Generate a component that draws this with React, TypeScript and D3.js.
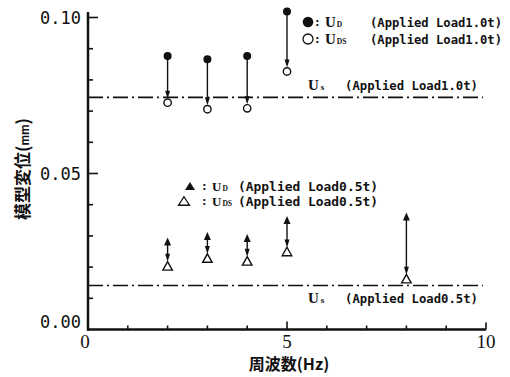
import React from "react";
import * as d3 from "d3";

// Frequencies (Hz) at which the model was loaded
const freqHeavy = [2, 3, 4, 5];
const freqLight = [2, 3, 4, 5, 8];

// Applied load 1.0 t
const udHeavy = [0.0877, 0.0866, 0.0877, 0.1019];
const udsHeavy = [0.0727, 0.0706, 0.0709, 0.0827];
const usHeavy = 0.0744;

// Applied load 0.5 t
const udLight = [0.0282, 0.03, 0.0293, 0.0351, 0.0362];
const udsLight = [0.0204, 0.0229, 0.022, 0.025, 0.0163];
const usLight = 0.0141;

const xTicks = [0, 1, 2, 3, 4, 5, 6, 7, 8, 9, 10];
const xTickLabels = [0, 5, 10];
const yTicks = [0.01, 0.02, 0.03, 0.04, 0.05, 0.06, 0.07, 0.08, 0.09, 0.1];
const yTickLabels = [0.1, 0.05, 0.0];

const W = 510;
const H = 377;

const x = d3.scaleLinear().domain([0, 10]).range([88, 486]);
const y = d3.scaleLinear().domain([0, 0.1]).range([329.5, 17.5]);

const INK = "#111";
const monoFont = "'DejaVu Sans Mono', 'Liberation Mono', monospace";
const serifFont = "'Liberation Serif', 'DejaVu Serif', serif";
const cjkFont = "'Noto Sans CJK JP', 'Noto Sans CJK SC', sans-serif";

const tri = (cx: number, cy: number, w: number, h: number, up = true) => {
  const p = d3.path();
  if (up) {
    p.moveTo(cx, cy - h / 2);
    p.lineTo(cx + w / 2, cy + h / 2);
    p.lineTo(cx - w / 2, cy + h / 2);
  } else {
    p.moveTo(cx, cy + h / 2);
    p.lineTo(cx + w / 2, cy - h / 2);
    p.lineTo(cx - w / 2, cy - h / 2);
  }
  p.closePath();
  return p.toString();
};

// Arrow running from the dynamic value down to the value under static load
function Arrow({ xv, from, to, gap }: { xv: number; from: number; to: number; gap: number }) {
  const px = x(xv);
  const y0 = y(from);
  const tip = y(to) - gap;
  const ah = 8;
  const aw = 5;
  const line = d3.line()([
    [px, y0],
    [px, tip - ah + 1],
  ]);
  return (
    <g>
      <path d={line || ""} stroke={INK} strokeWidth={1.4} fill="none" />
      <path d={tri(px, tip - ah / 2, aw, ah, false)} fill={INK} />
    </g>
  );
}

function UsLabel({ yPix, load }: { yPix: number; load: string }) {
  return (
    <g fill={INK}>
      <text x={308} y={yPix} fontFamily={serifFont} fontWeight="bold" fontSize={15}>
        U
        <tspan fontSize={9} dx={2}>s</tspan>
      </text>
      <text
        x={345}
        y={yPix}
        fontFamily={monoFont}
        fontWeight="bold"
        fontSize={12.5}
        textLength={133}
        lengthAdjust="spacingAndGlyphs"
      >
        {`(Applied Load${load}t)`}
      </text>
    </g>
  );
}

function LegendRow({
  marker,
  ux,
  base,
  sub,
  textX,
  textLen,
  load,
  fs,
  uSize,
}: {
  marker: React.ReactNode;
  ux: number;
  base: number;
  sub: string;
  textX: number;
  textLen: number;
  load: string;
  fs: number;
  uSize: number;
}) {
  return (
    <g fill={INK}>
      {marker}
      <text x={ux - 11} y={base - 1} fontFamily={monoFont} fontWeight="bold" fontSize={11}>
        :
      </text>
      <text x={ux} y={base} fontFamily={serifFont} fontWeight="bold" fontSize={uSize}>
        U
        <tspan fontSize={7.5} dx={1}>{sub}</tspan>
      </text>
      <text
        x={textX}
        y={base}
        fontFamily={monoFont}
        fontWeight="bold"
        fontSize={fs}
        textLength={textLen}
        lengthAdjust="spacingAndGlyphs"
      >
        {`(Applied Load${load}t)`}
      </text>
    </g>
  );
}

export default function App() {
  const dash = "15,4,2,4";
  return (
    <svg
      width={W}
      height={H}
      viewBox={`0 0 ${W} ${H}`}
      style={{ position: "absolute", left: 0, top: 0, background: "#fff" }}
    >
      <rect width={W} height={H} fill="#fff" />

      {/* axes */}
      <line x1={x(0)} x2={x(0)} y1={12} y2={y(0) + 1} stroke={INK} strokeWidth={2.5} />
      <line x1={x(0) - 1} x2={x(10)} y1={y(0)} y2={y(0)} stroke={INK} strokeWidth={2.5} />

      {/* y ticks, pointing inward */}
      {yTicks.map((t) => {
        const major = Math.abs(t - 0.05) < 1e-9 || Math.abs(t - 0.1) < 1e-9;
        return (
          <line
            key={t}
            x1={x(0)}
            x2={x(0) + (major ? 10 : 5)}
            y1={y(t)}
            y2={y(t)}
            stroke={INK}
            strokeWidth={1.6}
          />
        );
      })}
      {yTickLabels.map((t) => (
        <text
          key={t}
          x={81}
          y={t === 0 ? y(t) - 2 : y(t) + 6}
          textAnchor="end"
          fontFamily={monoFont}
          fontSize={17}
          fill={INK}
        >
          {t.toFixed(2)}
        </text>
      ))}

      {/* x ticks, pointing inward */}
      {xTicks.slice(1).map((t) => (
        <line
          key={t}
          x1={x(t)}
          x2={x(t)}
          y1={y(0)}
          y2={y(0) - (t === 5 ? 8 : t === 10 ? 7 : 4)}
          stroke={INK}
          strokeWidth={1.6}
        />
      ))}
      {xTickLabels.map((t) => (
        <text
          key={t}
          x={t === 0 ? x(t) - 3 : x(t)}
          y={348}
          textAnchor="middle"
          fontFamily={serifFont}
          fontSize={19}
          fill={INK}
        >
          {t}
        </text>
      ))}

      {/* axis titles */}
      <text
        x={289}
        y={370}
        textAnchor="middle"
        fontFamily={cjkFont}
        fontWeight="bold"
        fontSize={16}
        fill={INK}
      >
        周波数(Hz)
      </text>
      <text
        transform={`translate(29,169) rotate(-90)`}
        textAnchor="middle"
        fontFamily={cjkFont}
        fontWeight="bold"
        fontSize={17}
        fill={INK}
      >
        模型変位(<tspan fontSize={11}>mm</tspan>)
      </text>

      {/* static displacement lines */}
      <line
        x1={x(0)}
        x2={483}
        y1={y(usHeavy)}
        y2={y(usHeavy)}
        stroke={INK}
        strokeWidth={1.6}
        strokeDasharray={dash}
      />
      <line
        x1={x(0)}
        x2={483}
        y1={y(usLight)}
        y2={y(usLight)}
        stroke={INK}
        strokeWidth={1.6}
        strokeDasharray={dash}
      />
      <UsLabel yPix={90} load="1.0" />
      <UsLabel yPix={303} load="0.5" />

      {/* 1.0 t: U_D -> U_DS */}
      {freqHeavy.map((f, i) => (
        <g key={`h${f}`}>
          <Arrow xv={f} from={udHeavy[i]} to={udsHeavy[i]} gap={4} />
          <circle cx={x(f)} cy={y(udHeavy[i])} r={4} fill={INK} />
          <circle
            cx={x(f)}
            cy={y(udsHeavy[i])}
            r={3.7}
            fill="#fff"
            stroke={INK}
            strokeWidth={1.4}
          />
        </g>
      ))}

      {/* 0.5 t: U_D -> U_DS */}
      {freqLight.map((f, i) => (
        <g key={`l${f}`}>
          <Arrow xv={f} from={udLight[i]} to={udsLight[i]} gap={4} />
          <path d={tri(x(f), y(udLight[i]), 7, 8)} fill={INK} />
          <path
            d={tri(x(f), y(udsLight[i]), 9.5, 8.5)}
            fill="#fff"
            stroke={INK}
            strokeWidth={1.4}
            strokeLinejoin="miter"
          />
        </g>
      ))}

      {/* legends */}
      <LegendRow
        marker={<circle cx={308} cy={22} r={5.3} fill={INK} />}
        ux={325}
        base={27}
        sub="D"
        textX={370}
        textLen={132}
        load="1.0"
        fs={12}
        uSize={15}
      />
      <LegendRow
        marker={<circle cx={308} cy={39} r={5} fill="#fff" stroke={INK} strokeWidth={1.3} />}
        ux={325}
        base={44}
        sub="DS"
        textX={370}
        textLen={132}
        load="1.0"
        fs={12}
        uSize={15}
      />
      <LegendRow
        marker={<path d={tri(190, 186, 10, 8)} fill={INK} />}
        ux={212}
        base={191}
        sub="D"
        textX={238}
        textLen={140}
        load="0.5"
        fs={12.5}
        uSize={13}
      />
      <LegendRow
        marker={
          <path d={tri(184, 201, 11, 8.5)} fill="#fff" stroke={INK} strokeWidth={1.3} />
        }
        ux={212}
        base={206}
        sub="DS"
        textX={238}
        textLen={140}
        load="0.5"
        fs={12.5}
        uSize={13}
      />
    </svg>
  );
}
